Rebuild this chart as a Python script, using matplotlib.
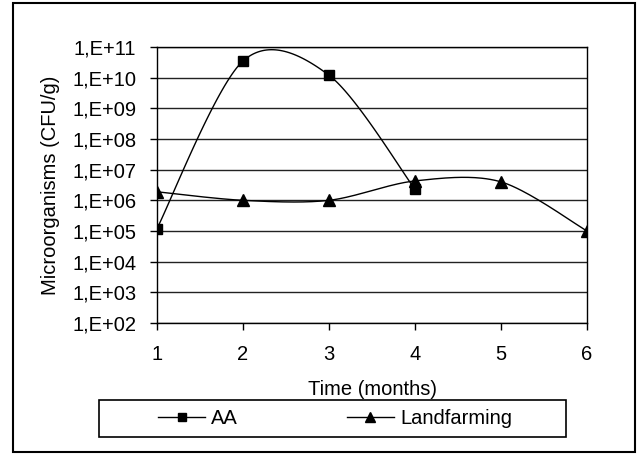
import numpy as np
import matplotlib
matplotlib.use("Agg")
import matplotlib.pyplot as plt
from matplotlib.patches import Rectangle

plt.rcParams['font.family'] = ['Liberation Sans', 'DejaVu Sans']

# Data
aa_x = [1, 2, 3, 4]
aa_y = [1.2e5, 3.5e10, 1.2e10, 2.3e6]
lf_x = [1, 2, 3, 4, 5, 6]
lf_y = [1.9e6, 1.0e6, 1.0e6, 4.3e6, 4.0e6, 1.0e5]
y_ticks = [1e2, 1e3, 1e4, 1e5, 1e6, 1e7, 1e8, 1e9, 1e10, 1e11]
y_ticklabels = ["1,E+02", "1,E+03", "1,E+04", "1,E+05", "1,E+06",
                "1,E+07", "1,E+08", "1,E+09", "1,E+10", "1,E+11"]
x_ticks = [1, 2, 3, 4, 5, 6]

FS = 14.5


def smooth(xs, ys, n=40, k=0.155):
    """Catmull-Rom style Bezier smoothing (like Excel) in (x, log10 y) space."""
    P = np.column_stack([np.asarray(xs, float), np.log10(ys)])
    m = len(P)
    out = [P[0]]
    for i in range(m - 1):
        p0 = P[i - 1] if i > 0 else P[i]
        p1 = P[i]
        p2 = P[i + 1]
        p3 = P[i + 2] if i + 2 < m else P[i + 1]
        c1 = p1 + (p2 - p0) * k
        c2 = p2 - (p3 - p1) * k
        t = np.linspace(0, 1, n)[1:, None]
        seg = ((1 - t) ** 3) * p1 + 3 * ((1 - t) ** 2) * t * c1 + 3 * (1 - t) * t ** 2 * c2 + t ** 3 * p2
        out.extend(seg)
    out = np.array(out)
    return out[:, 0], 10 ** out[:, 1]


fig = plt.figure(figsize=(6.42, 4.54), dpi=100)
ax = fig.add_axes([157 / 642, 1 - 323 / 454, 430 / 642, 276 / 454])

sx, sy = smooth(aa_x, aa_y)
ax.plot(sx, sy, color='black', lw=1.0, zorder=3)
ax.plot(aa_x, aa_y, ls='none', marker='s', ms=6.5, color='black', zorder=4)
sx, sy = smooth(lf_x, lf_y)
ax.plot(sx, sy, color='black', lw=1.0, zorder=3)
ax.plot(lf_x, lf_y, ls='none', marker='^', ms=8, color='black', zorder=4)

# legend proxies
h1, = ax.plot([], [], color='black', lw=1.0, marker='s', ms=6, label='AA')
h2, = ax.plot([], [], color='black', lw=1.0, marker='^', ms=7, label='Landfarming')

ax.set_yscale('log')
ax.set_ylim(1e2, 1e11)
ax.set_xlim(1, 6)
ax.set_yticks(y_ticks)
ax.set_yticklabels(y_ticklabels)
ax.yaxis.set_minor_locator(matplotlib.ticker.NullLocator())
ax.set_xticks(x_ticks)
ax.set_xticklabels([str(v) for v in x_ticks])
ax.tick_params(axis='both', direction='out', length=5, width=1.0, labelsize=FS, color='black')
ax.tick_params(axis='x', pad=11)
ax.tick_params(axis='y', pad=10)
ax.grid(axis='y', color='#222222', lw=1.0)
ax.set_axisbelow(True)
for s in ax.spines.values():
    s.set_color('black')
    s.set_linewidth(1.0)

ax.set_ylabel('Microorganisms (CFU/g)', fontsize=FS, labelpad=9)
ax.set_xlabel('Time (months)', fontsize=FS, labelpad=11.5)

leg = fig.legend([h1, h2], ['AA', 'Landfarming'], ncol=2, loc='center',
                 bbox_to_anchor=((157 + 513) / 2 / 642, 1 - 418.5 / 454),
                 fontsize=FS, frameon=False,
                 handlelength=2.35, columnspacing=5.4, borderpad=0.0, handletextpad=0.3)

fig.patches.append(Rectangle((99 / 642, 1 - 437 / 454), 467 / 642, 37 / 454,
                             transform=fig.transFigure, fill=False,
                             edgecolor='black', lw=1.2))
fig.patches.append(Rectangle((13 / 642, 1 - 452 / 454), 622 / 642, 449 / 454,
                             transform=fig.transFigure, fill=False,
                             edgecolor='black', lw=1.5))

fig.savefig('out.png', dpi=100)
